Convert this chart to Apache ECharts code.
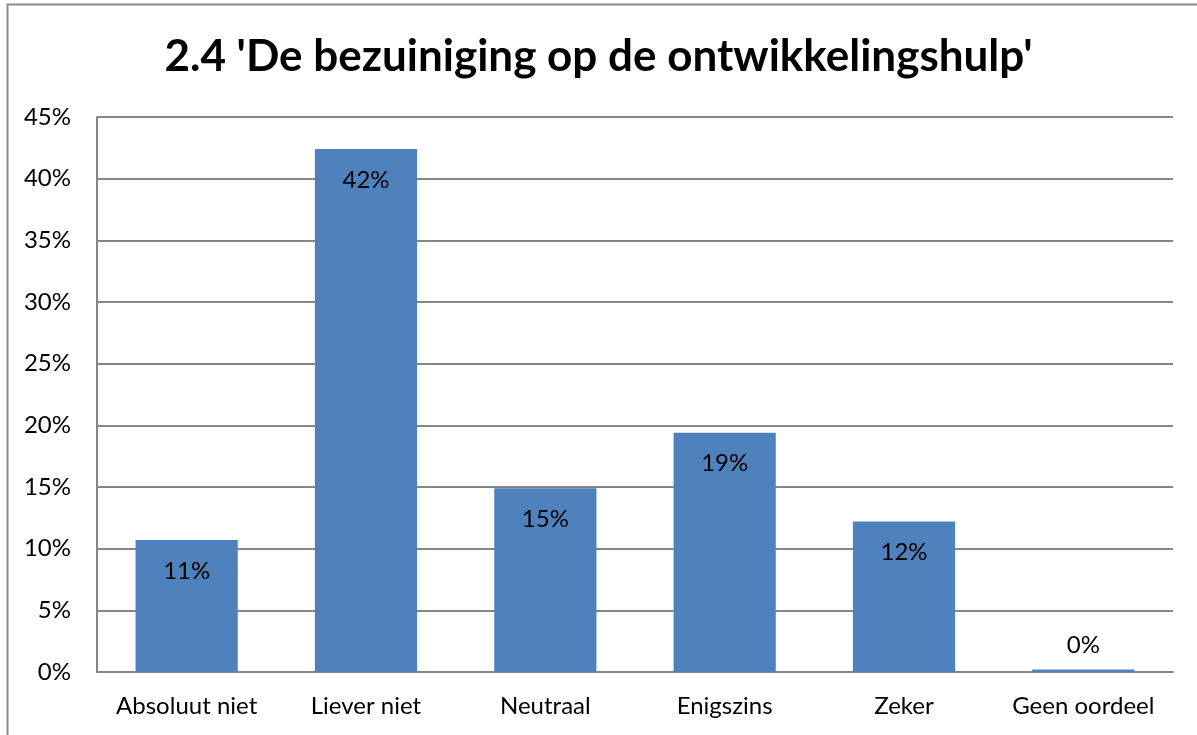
<!DOCTYPE html>
<html>
<head>
<meta charset="utf-8">
<script src="https://cdn.jsdelivr.net/npm/echarts@6/dist/echarts.min.js"></script>
<style>
  body { margin: 0; background: #fff; }
  #chart { width: 1197px; height: 735px; }
</style>
</head>
<body>
<div id="chart"></div>
<script>
// data
const categories = ['Absoluut niet', 'Liever niet', 'Neutraal', 'Enigszins', 'Zeker', 'Geen oordeel'];
const values = [10.7, 42.4, 14.9, 19.4, 12.2, 0.2];
const labels = ['11%', '42%', '15%', '19%', '12%', '0%'];

const FONT = 'Lato';
const chart = echarts.init(document.getElementById('chart'));

let option = {
  backgroundColor: '#fff',
  animation: false,
  title: {
    text: "2.4 'De bezuiniging op de ontwikkelingshulp'",
    left: 'center',
    top: 30,
    textStyle: {
      fontFamily: FONT,
      fontWeight: 'bold',
      fontSize: 44,
      color: '#000'
    }
  },
  graphic: [{
    type: 'rect',
    shape: { x: 7.5, y: 4.5, width: 1200, height: 740 },
    style: { fill: 'none', stroke: '#898989', lineWidth: 2 },
    silent: true
  }],
  grid: {
    left: 97,
    right: 24,
    top: 117,
    bottom: 63
  },
  xAxis: {
    type: 'category',
    data: categories,
    axisLine: { lineStyle: { color: '#868686', width: 2 } },
    axisTick: { show: false },
    axisLabel: {
      interval: 0,
      fontFamily: FONT,
      fontSize: 24,
      color: '#000',
      margin: 22
    }
  },
  yAxis: {
    type: 'value',
    min: 0,
    max: 45,
    interval: 5,
    axisLine: { show: true, lineStyle: { color: '#868686', width: 2 } },
    axisTick: { show: false },
    splitLine: { lineStyle: { color: '#868686', width: 2 } },
    axisLabel: {
      fontFamily: FONT,
      fontSize: 24,
      color: '#000',
      margin: 26,
      formatter: '{value}%'
    }
  },
  series: [{
    type: 'bar',
    barWidth: '57%',
    data: values.map((v, i) => ({
      value: v,
      label: i === values.length - 1 ? { position: 'top', distance: 12 } : {}
    })),
    itemStyle: { color: '#4F81BD' },
    label: {
      show: true,
      position: 'insideTop',
      distance: 19,
      fontFamily: FONT,
      fontSize: 24,
      color: '#000',
      formatter: p => labels[p.dataIndex]
    }
  }]
};

option && chart.setOption(option);
</script>
</body>
</html>
